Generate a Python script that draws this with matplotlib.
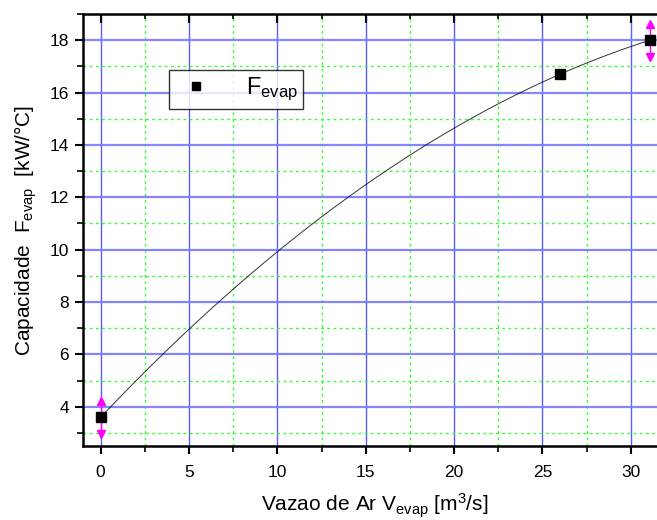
import numpy as np
import matplotlib
matplotlib.use("Agg")
import matplotlib.pyplot as plt
from matplotlib.ticker import MultipleLocator

plt.rcParams["font.family"] = ["Liberation Sans", "DejaVu Sans"]
plt.rcParams["mathtext.fontset"] = "custom"
plt.rcParams["mathtext.rm"] = "Liberation Sans"
plt.rcParams["mathtext.it"] = "Liberation Sans:italic"

# dados
vazao = [0.0, 26.0, 31.1]
capacidade = [3.6, 16.7, 18.0]
erro = [0.75, 0.0, 0.75]

x_ticks = [0, 5, 10, 15, 20, 25, 30]
x_minor = [2.5, 7.5, 12.5, 17.5, 22.5, 27.5]
y_ticks = [4, 6, 8, 10, 12, 14, 16, 18]

W, H = 657, 520
fig = plt.figure(figsize=(W / 100, H / 100), dpi=100)
# eixo direito fica fora da imagem (recortado como no original)
ax_h = 446 - 14
ax = fig.add_axes([83 / W, (H - 446) / H, (666 - 83) / W, ax_h / H])

ax.set_xlim(-1, 32)
ax.set_ylim(2.5, 19)
ax.set_xticks(x_ticks)
ax.set_xticks(x_minor, minor=True)
ax.set_yticks(y_ticks)
ax.yaxis.set_minor_locator(MultipleLocator(1))

# grade
ax.grid(which="major", axis="y", color="#7878ff", lw=1.6, alpha=0.9)
ax.grid(which="major", axis="x", color="#4040ff", lw=1.0, alpha=0.85)
ax.grid(which="minor", color="#33ff33", lw=1.0, ls=(0, (2, 2.5)))
ax.set_axisbelow(True)

# curva de ajuste (polinomio de 2a ordem)
coef = np.polyfit(vazao, capacidade, 2)
xf = np.linspace(min(vazao), max(vazao), 200)
ax.plot(xf, np.polyval(coef, xf), color="black", lw=0.7, alpha=0.8, zorder=3)

# barras de erro com setas
vz = np.array(vazao)
cp = np.array(capacidade)
er = np.array(erro)
m = er > 0
ax.errorbar(vz[m], cp[m], yerr=er[m], fmt="none", ecolor="magenta", elinewidth=1.0, zorder=4)
ax.plot(vz[m], cp[m] + er[m] - 0.12, ls="none", marker="^", ms=6, color="magenta", zorder=4)
ax.plot(vz[m], cp[m] - er[m] + 0.12, ls="none", marker="v", ms=6, color="magenta", zorder=4)

ax.plot(vazao, capacidade, ls="none", marker="s", ms=7, color="black",
        label=r"F$_{\mathregular{evap}}$", zorder=5, clip_on=False)

for s in ["left", "bottom", "top", "right"]:
    ax.spines[s].set_linewidth(1.8)

ax.tick_params(axis="both", which="major", labelsize=12.5, width=1.5, length=6, direction="out")
ax.tick_params(axis="both", which="minor", width=1.2, length=4, direction="out")
ax.tick_params(axis="x", which="major", pad=8)
ax.tick_params(axis="y", which="major", pad=4)

# ticks do topo apontam para dentro
tr = ax.get_xaxis_transform()
ax.vlines(x_ticks, 1 - 9 / ax_h, 1, transform=tr, color="black", lw=1.5, zorder=6, clip_on=False)
ax.vlines(x_minor, 1 - 5 / ax_h, 1, transform=tr, color="black", lw=1.2, zorder=6, clip_on=False)

ax.set_xlabel(r"Vazao de Ar V$_{\mathregular{evap}}$ [m$^{\mathregular{3}}$/s]", fontsize=15, labelpad=8)
ax.set_ylabel(r"Capacidade  F$_{\mathregular{evap}}$  [kW/°C]", fontsize=15, labelpad=8)

leg = ax.legend(loc="upper left", bbox_to_anchor=((169 - 83) / (666 - 83), (446 - 70) / ax_h),
                fontsize=17, frameon=True, fancybox=False, borderpad=0.25, markerscale=0.85,
                handlelength=1.8, handletextpad=1.2, borderaxespad=0)
leg.get_frame().set_edgecolor("black")
leg.get_frame().set_linewidth(1.0)

fig.savefig("out.png", dpi=100)
